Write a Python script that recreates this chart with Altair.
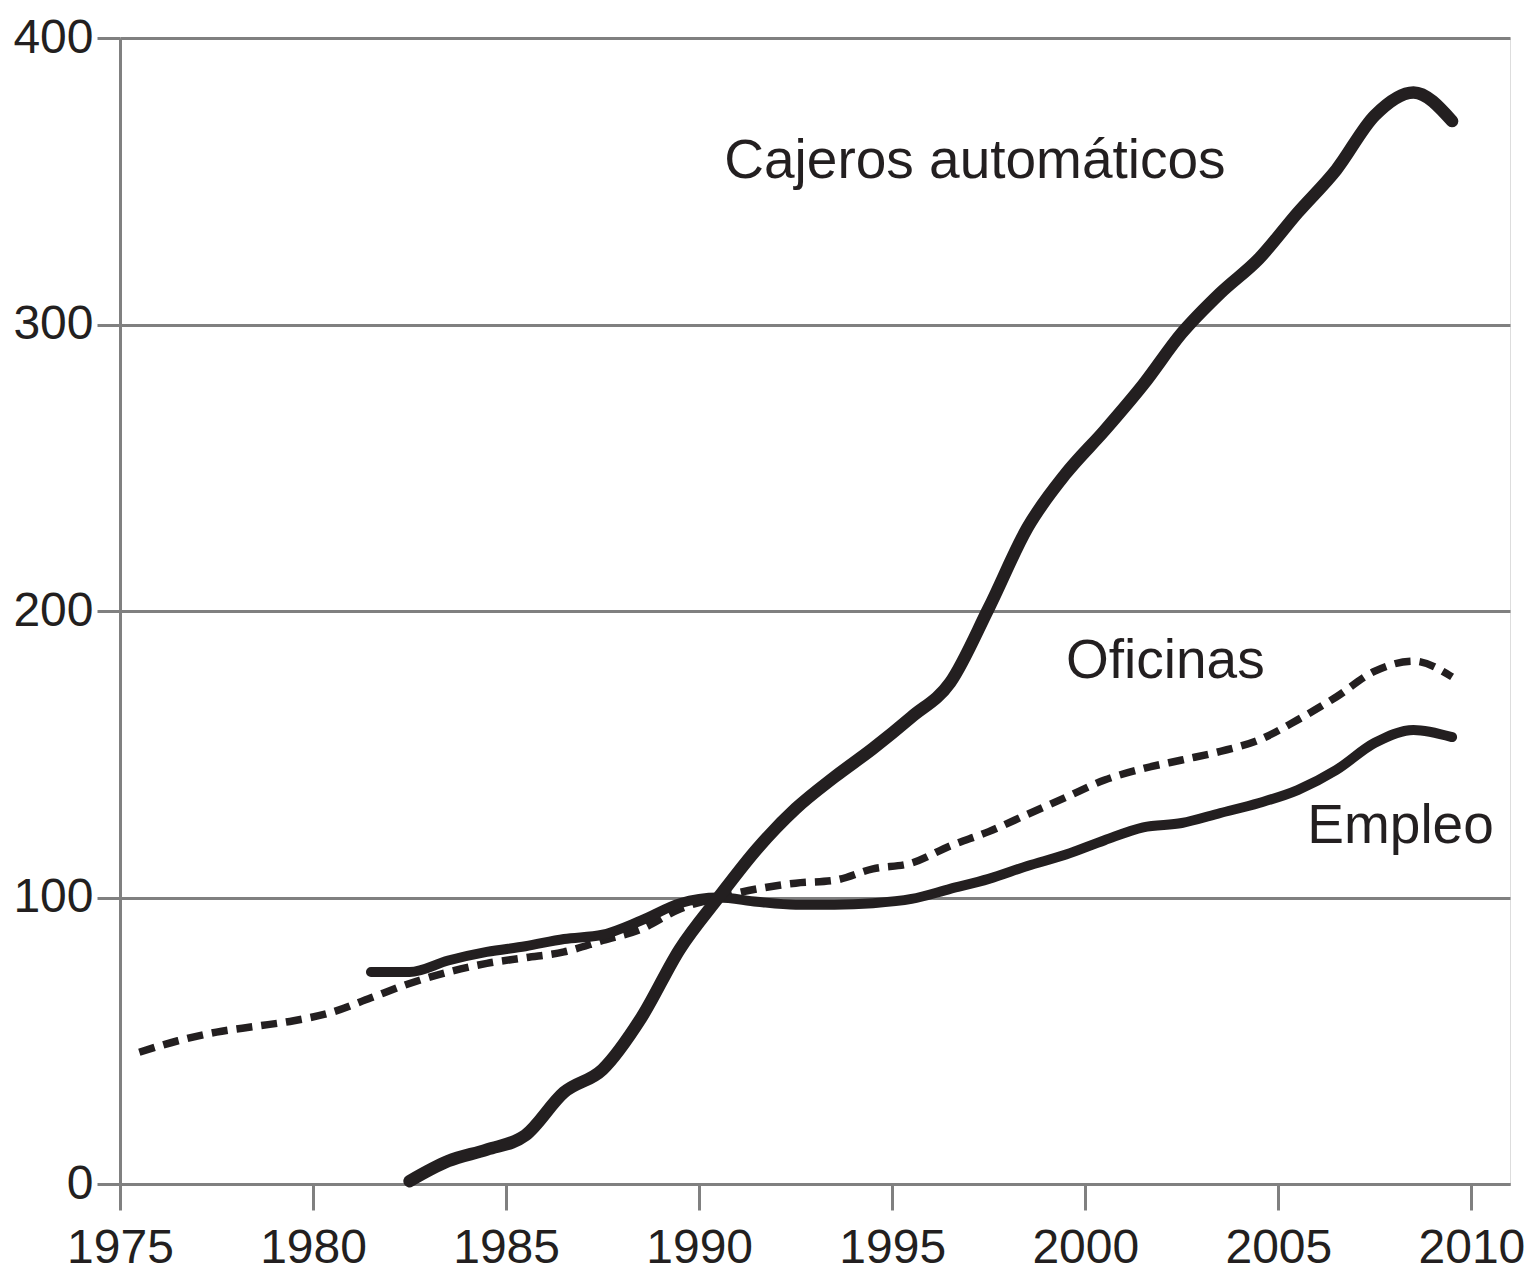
import altair as alt
import pandas as pd

# ---- data (index, 1990 = 100) ----
years_of = list(range(1975, 2010))
oficinas = [46, 50, 53, 55, 57, 60, 65, 70, 74, 77, 79, 81, 85, 89, 96,
            100, 103, 105, 106, 110, 112, 118, 123, 129, 135, 141, 145, 148,
            151, 155, 162, 170, 179, 182.5, 177]

years_emp = list(range(1981, 2010))
empleo = [74, 74, 78, 81, 83, 85.5, 87, 92, 98,
          100, 98.5, 97.5, 97.5, 98, 99.5, 103, 106.5, 111, 115, 120, 124.5,
          126, 129.5, 133, 137.5, 144.5, 154, 158.5, 156]

years_atm = list(range(1982, 2010))
cajeros = [1, 8, 12, 17, 32, 40, 58, 82,
           100, 117, 131, 142, 152, 163, 175, 201, 229, 248, 263, 279, 297,
           311, 323, 339, 354, 373, 381, 371]

label_text = ["Cajeros automáticos", "Oficinas", "Empleo"]
label_year = [1990.65, 1999.5, 2005.75]
label_value = [357, 182.5, 125]

x_ticks = [1975, 1980, 1985, 1990, 1995, 2000, 2005, 2010]
y_ticks = [0, 100, 200, 300, 400]

INK = "#231f20"
GRID = "#808080"
FONT = "Liberation Sans"

def frame(years, values):
    return pd.DataFrame({"year": years, "value": values})

x_scale = alt.Scale(domain=[1975, 2011], nice=False, zero=False)
y_scale = alt.Scale(domain=[0, 400], nice=False)

x_axis = alt.Axis(values=x_ticks, format="d", title=None, grid=False,
                  domainColor=GRID, domainWidth=3, tickColor=GRID, tickWidth=3,
                  tickSize=26, labelFont=FONT, labelFontSize=48,
                  labelColor=INK, labelPadding=14, labelFlush=False,
                  labelOverlap=False)
y_axis = alt.Axis(values=y_ticks, title=None, grid=True, gridColor=GRID,
                  gridWidth=3, domainColor=GRID, domainWidth=3,
                  tickColor=GRID, tickWidth=3, tickSize=23, labelFont=FONT,
                  labelFontSize=48, labelColor=INK, labelPadding=4,
                  labelFlush=False, labelOverlap=False)

def line_layer(df, width, dash=None, cap="round"):
    kw = dict(color=INK, strokeWidth=width, strokeCap=cap, strokeJoin="round",
              interpolate="monotone", clip=False)
    if dash:
        kw["strokeDash"] = dash
    return (
        alt.Chart(df)
        .transform_calculate(xpos="datum.year + 0.5")
        .mark_line(**kw)
        .encode(
            x=alt.X("xpos:Q", scale=x_scale, axis=x_axis),
            y=alt.Y("value:Q", scale=y_scale, axis=y_axis),
        )
    )

of_layer = line_layer(frame(years_of, oficinas), 7.5, dash=[16, 9], cap="butt")
emp_layer = line_layer(frame(years_emp, empleo), 10)
atm_layer = line_layer(frame(years_atm, cajeros), 12.5)

labels = (
    alt.Chart(pd.DataFrame({"text": label_text, "year": label_year,
                            "value": label_value}))
    .mark_text(align="left", baseline="middle", font=FONT, fontSize=55,
               color=INK)
    .encode(x=alt.X("year:Q", scale=x_scale, axis=x_axis),
            y=alt.Y("value:Q", scale=y_scale, axis=y_axis),
            text="text:N")
)

chart = (
    alt.layer(of_layer, emp_layer, atm_layer, labels)
    .properties(width=1390, height=1146,
                autosize=alt.AutoSizeParams(type="none"),
                padding={"left": 112, "top": 30, "right": 14, "bottom": 92})
    .configure_view(strokeWidth=0, stroke="transparent")
    .configure(background="white")
)

chart.save("out.html", embed_options={"renderer": "svg", "actions": False})
